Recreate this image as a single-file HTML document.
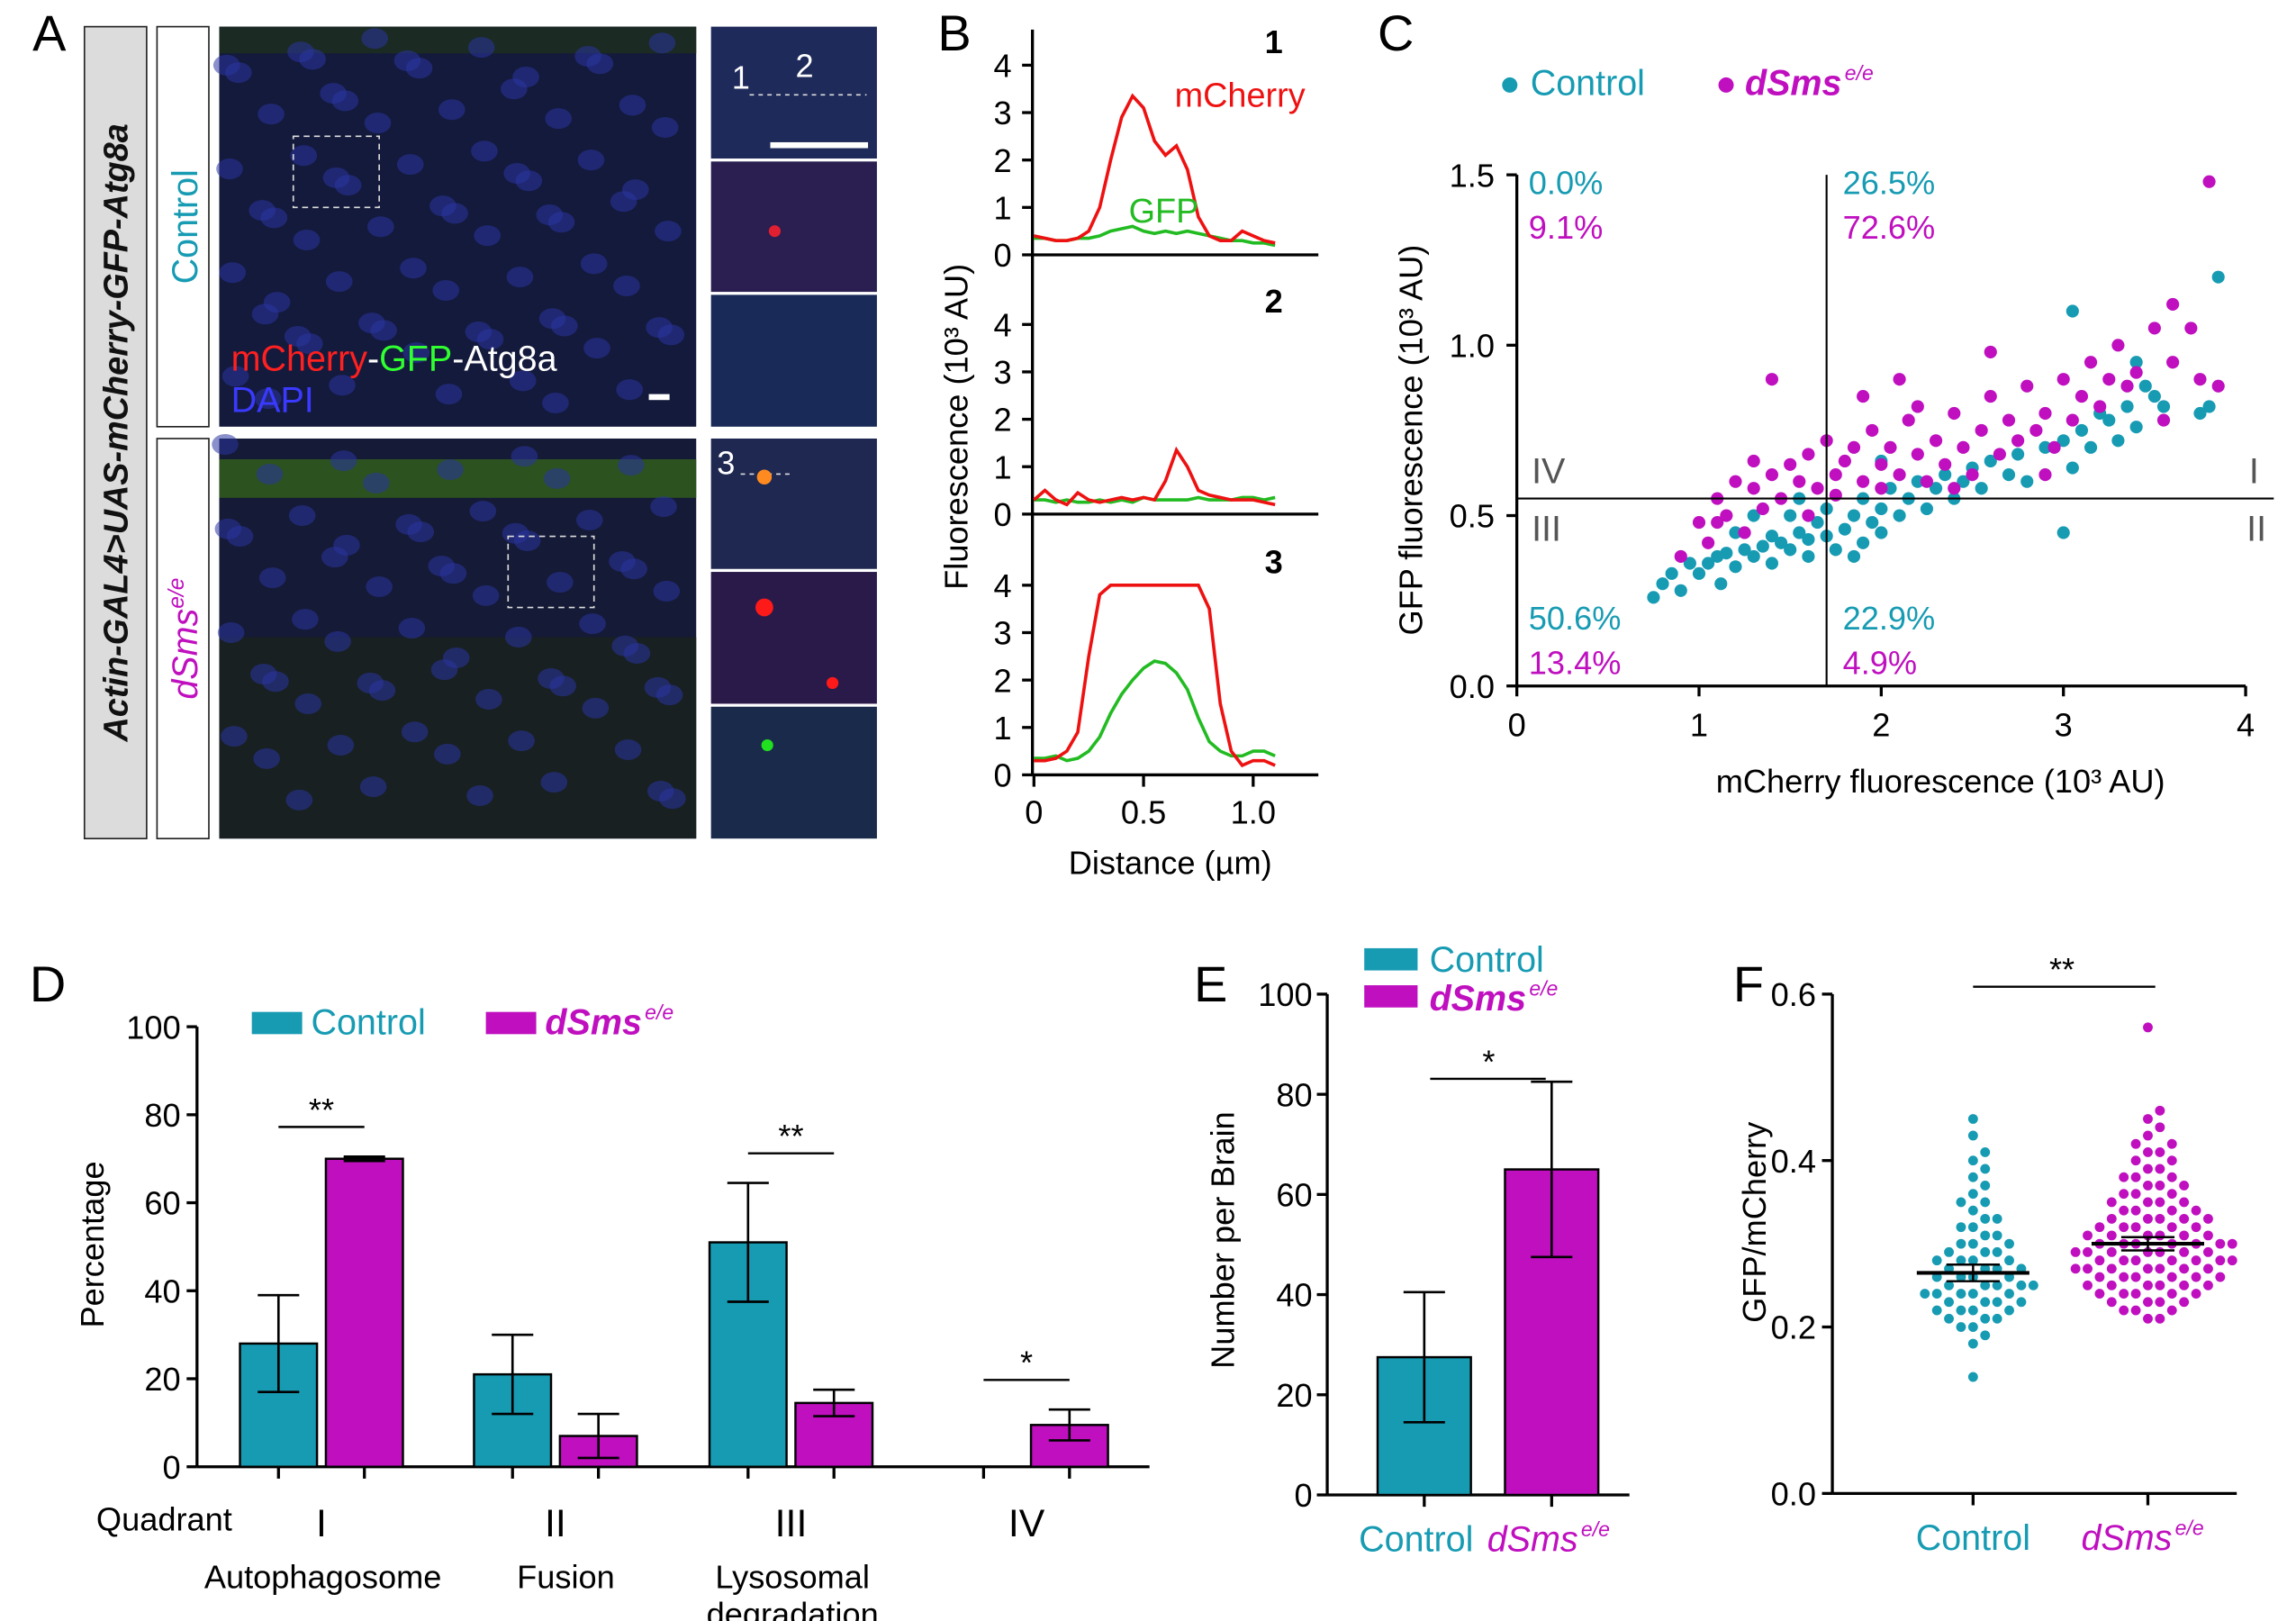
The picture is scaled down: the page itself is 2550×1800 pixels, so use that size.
<!DOCTYPE html>
<html><head><meta charset="utf-8">
<style>
html,body{margin:0;padding:0;background:#fff;}
svg{display:block;font-family:"Liberation Sans",Arial,sans-serif;}
</style></head>
<body>
<svg id="fig" width="2550" height="1800" viewBox="0 0 1550 1094.1" preserveAspectRatio="none" xmlns="http://www.w3.org/2000/svg">
<g id="panelA">
  <text x="22" y="34" font-size="34">A</text>
  <rect x="57" y="18" width="42" height="548" fill="#dcdcdc" stroke="#222" stroke-width="1"/>
  <text transform="translate(86,292) rotate(-90)" text-anchor="middle" font-size="23" font-weight="bold" font-style="italic" fill="#111">Actin-GAL4&gt;UAS-mCherry-GFP-Atg8a</text>
  <rect x="106" y="18" width="35" height="270" fill="#fff" stroke="#222"/>
  <text transform="translate(133,153) rotate(-90)" text-anchor="middle" font-size="24" fill="#179bb3">Control</text>
  <rect x="106" y="296" width="35" height="270" fill="#fff" stroke="#222"/>
  <text transform="translate(133,431) rotate(-90)" text-anchor="middle" font-size="24" font-style="italic" fill="#bf0fbf">dSms<tspan font-size="15" dy="-9">e/e</tspan></text>
  <rect x="148" y="18" width="322" height="270" fill="#141a3c"/>
  <rect x="148" y="18" width="322" height="18" fill="#1b2a22"/>
  <rect x="148" y="296" width="322" height="270" fill="#151a36"/>
  <rect x="148" y="310" width="322" height="26" fill="#2c5220"/>
  <rect x="148" y="430" width="322" height="136" fill="#182022"/>
  <g id="nuclei"></g>
  <rect x="198" y="92" width="58" height="48" fill="none" stroke="#ddd" stroke-dasharray="4,3"/>
  <rect x="343" y="362" width="58" height="48" fill="none" stroke="#ddd" stroke-dasharray="4,3"/>
  <text x="156" y="250" font-size="24" fill="#ff2020">mCherry<tspan fill="#fff">-</tspan><tspan fill="#30ff30">GFP</tspan><tspan fill="#fff">-Atg8a</tspan></text>
  <text x="156" y="278" font-size="24" fill="#3a3aff">DAPI</text>
  <rect x="438" y="266" width="14" height="4" fill="#fff"/>
  <rect x="480" y="18" width="112" height="89" fill="#1e2a5a"/>
  <rect x="480" y="109" width="112" height="88" fill="#2a1f50"/>
  <rect x="480" y="199" width="112" height="89" fill="#1a2a58"/>
  <rect x="480" y="296" width="112" height="88" fill="#1e2850"/>
  <rect x="480" y="386" width="112" height="89" fill="#2a1a4a"/>
  <rect x="480" y="477" width="112" height="89" fill="#1a2a4a"/>
  <text x="494" y="60" font-size="22" fill="#fff">1</text>
  <text x="537" y="52" font-size="22" fill="#fff">2</text>
  <line x1="506" y1="64" x2="585" y2="64" stroke="#ddd" stroke-dasharray="3,3"/>
  <rect x="520" y="96" width="66" height="4" fill="#fff"/>
  <text x="484" y="320" font-size="22" fill="#fff">3</text>
  <line x1="500" y1="320" x2="535" y2="320" stroke="#ddd" stroke-dasharray="3,3"/>
  <circle cx="516" cy="322" r="5" fill="#ff8a20"/>
  <circle cx="523" cy="156" r="4" fill="#e02030"/>
  <circle cx="516" cy="410" r="6" fill="#ff1a1a"/>
  <circle cx="562" cy="461" r="4" fill="#ff1a1a"/>
  <circle cx="518" cy="503" r="4" fill="#20e020"/>
</g>
<g id="panelB">
  <text x="633" y="34" font-size="34">B</text>
</g>
<g id="panelC">
  <text x="930" y="34" font-size="34">C</text>
</g>
<g id="panelD">
  <text x="20" y="676" font-size="34">D</text>
</g>
<g id="panelE">
  <text x="806" y="676" font-size="34">E</text>
</g>
<g id="panelF">
  <text x="1170" y="676" font-size="34">F</text>
</g>
</svg>
<script>
// ---------- Panel B data ----------
const bDist = [0,0.05,0.1,0.15,0.2,0.25,0.3,0.35,0.4,0.45,0.5,0.55,0.6,0.65,0.7,0.75,0.8,0.85,0.9,0.95,1.0,1.05,1.1];
const bRed1 = [0.4,0.35,0.3,0.3,0.35,0.5,1.0,2.0,2.9,3.35,3.1,2.4,2.1,2.3,1.8,0.8,0.4,0.3,0.3,0.5,0.4,0.3,0.25];
const bGreen1 = [0.35,0.35,0.3,0.3,0.35,0.35,0.4,0.5,0.55,0.6,0.5,0.45,0.5,0.45,0.5,0.45,0.4,0.35,0.3,0.3,0.25,0.25,0.2];
const bRed2 = [0.3,0.5,0.3,0.2,0.45,0.3,0.25,0.3,0.35,0.3,0.35,0.3,0.7,1.35,1.0,0.5,0.4,0.35,0.3,0.3,0.3,0.25,0.2];
const bGreen2 = [0.3,0.3,0.25,0.3,0.25,0.25,0.3,0.25,0.3,0.25,0.35,0.3,0.3,0.3,0.3,0.35,0.3,0.3,0.3,0.35,0.35,0.3,0.35];
const bRed3 = [0.3,0.3,0.35,0.5,0.9,2.5,3.8,4,4,4,4,4,4,4,4,4,3.5,1.5,0.5,0.2,0.3,0.3,0.2];
const bGreen3 = [0.35,0.35,0.4,0.3,0.35,0.5,0.8,1.3,1.7,2.0,2.25,2.4,2.35,2.15,1.8,1.2,0.7,0.5,0.4,0.4,0.5,0.5,0.4];
const bYTicks = [0,1,2,3,4];
const bXTicks = [0,0.5,1.0];
const bXTickLabels = ["0","0.5","1.0"];
// ---------- Panel C data ----------
const cCtlX = [0.75,0.8,0.85,0.9,0.95,1.0,1.05,1.1,1.12,1.15,1.2,1.25,1.3,1.35,1.4,1.4,1.45,1.5,1.5,1.55,1.6,1.6,1.65,1.7,1.7,1.75,1.8,1.85,1.9,1.9,1.95,2.0,2.0,2.05,2.1,2.15,2.2,2.25,2.3,2.35,2.4,2.45,2.5,2.55,2.6,2.7,2.75,2.8,2.9,3.0,3.05,3.1,3.15,3.2,3.25,3.3,3.35,3.4,3.45,3.5,3.55,3.0,3.05,3.4,3.75,3.85,3.8,1.2,1.55,1.3,2.0,1.85];
const cCtlY = [0.26,0.3,0.33,0.28,0.36,0.33,0.36,0.38,0.3,0.39,0.35,0.4,0.38,0.41,0.36,0.44,0.42,0.4,0.5,0.45,0.43,0.38,0.48,0.44,0.52,0.4,0.46,0.5,0.42,0.55,0.48,0.52,0.45,0.58,0.5,0.55,0.6,0.52,0.58,0.62,0.55,0.6,0.64,0.58,0.66,0.62,0.68,0.6,0.7,0.72,0.64,0.75,0.7,0.8,0.78,0.72,0.82,0.76,0.88,0.85,0.82,0.45,1.1,0.95,0.8,1.2,0.82,0.45,0.55,0.5,0.66,0.38];
const cDsmX = [0.9,1.0,1.05,1.1,1.15,1.2,1.25,1.3,1.35,1.4,1.45,1.5,1.55,1.6,1.65,1.7,1.75,1.8,1.85,1.9,1.95,2.0,2.0,2.05,2.1,2.15,2.2,2.25,2.3,2.35,2.4,2.45,2.5,2.55,2.6,2.65,2.7,2.75,2.8,2.85,2.9,2.95,3.0,3.05,3.1,3.15,3.2,3.25,3.3,3.35,3.4,3.5,3.55,3.6,3.7,3.75,3.8,3.85,1.4,1.9,2.1,2.6,1.6,1.3,2.4,2.9,2.2,1.1,3.6,1.75];
const cDsmY = [0.38,0.48,0.42,0.55,0.5,0.6,0.45,0.58,0.52,0.62,0.55,0.65,0.6,0.68,0.58,0.72,0.62,0.66,0.7,0.6,0.75,0.65,0.58,0.7,0.62,0.78,0.68,0.6,0.72,0.65,0.8,0.7,0.62,0.75,0.85,0.68,0.78,0.72,0.88,0.75,0.8,0.7,0.9,0.78,0.85,0.95,0.82,0.9,1.0,0.88,0.92,1.05,0.78,0.95,1.05,0.9,1.48,0.88,0.9,0.85,0.9,0.98,0.5,0.66,0.58,0.62,0.82,0.48,1.12,0.56];
const cXTicks = [0,1,2,3,4];
const cYTicks = [0,0.5,1.0,1.5];
const cYTickLabels = ["0.0","0.5","1.0","1.5"];
const cThreshX = 1.7;
const cThreshY = 0.55;
const cQuadCtl = ["0.0%","26.5%","50.6%","22.9%"];
const cQuadDsm = ["9.1%","72.6%","13.4%","4.9%"];
// ---------- Panel D data ----------
const dQuadrants = ["I","II","III","IV"];
const dCtl = [28,21,51,0];
const dCtlErr = [11,9,13.5,0];
const dDsm = [70,7,14.5,9.5];
const dDsmErr = [0.5,5,3,3.5];
const dSig = ["**","","**","*"];
const dYTicks = [0,20,40,60,80,100];
// ---------- Panel E data ----------
const eGroups = ["Control","dSms"];
const eVals = [27.5,65];
const eErr = [13,17.5];
const eYTicks = [0,20,40,60,80,100];
// ---------- Panel F data ----------
const fCtl = [0.14,0.18,0.19,0.2,0.2,0.21,0.21,0.21,0.22,0.22,0.22,0.22,0.23,0.23,0.23,0.23,0.24,0.24,0.24,0.24,0.24,0.25,0.25,0.25,0.25,0.25,0.26,0.26,0.26,0.26,0.27,0.27,0.27,0.27,0.28,0.28,0.28,0.28,0.29,0.29,0.29,0.3,0.3,0.3,0.31,0.31,0.32,0.32,0.33,0.33,0.34,0.35,0.35,0.36,0.37,0.38,0.39,0.4,0.41,0.43,0.45];
const fDsm = [0.21,0.21,0.22,0.22,0.22,0.23,0.23,0.23,0.23,0.24,0.24,0.24,0.24,0.24,0.25,0.25,0.25,0.25,0.25,0.25,0.26,0.26,0.26,0.26,0.26,0.26,0.27,0.27,0.27,0.27,0.27,0.27,0.27,0.28,0.28,0.28,0.28,0.28,0.28,0.28,0.29,0.29,0.29,0.29,0.29,0.29,0.29,0.3,0.3,0.3,0.3,0.3,0.3,0.3,0.31,0.31,0.31,0.31,0.31,0.31,0.32,0.32,0.32,0.32,0.32,0.33,0.33,0.33,0.33,0.33,0.34,0.34,0.34,0.34,0.35,0.35,0.35,0.35,0.36,0.36,0.36,0.37,0.37,0.37,0.38,0.38,0.38,0.39,0.39,0.4,0.4,0.41,0.41,0.42,0.42,0.43,0.44,0.45,0.46,0.56];
const fMeans = [0.265,0.30];
const fSem = [0.01,0.008];
const fYTicks = [0,0.2,0.4,0.6];
const fYTickLabels = ["0.0","0.2","0.4","0.6"];

const TEAL="#179bb3", MAG="#bf0fbf", NS="http://www.w3.org/2000/svg";
function mk(parent, tag, attrs, name, inter){
  const el=document.createElementNS(NS,tag);
  for(const k in attrs) el.setAttribute(k,attrs[k]);
  
  
  document.getElementById(parent).appendChild(el); return el;
}
function txt(parent,x,y,s,size,name,opt){
  const a=Object.assign({x:x,y:y,'font-size':size},opt||{});
  const t=mk(parent,'text',a,name); t.textContent=s; return t;
}
function sup(parent,t,x,y,name){
  const w=t.getComputedTextLength();
  txt(parent,x+w+2,y-10,'e/e',14,name,{fill:MAG,'font-style':'italic'});
}
function ln(parent,x1,y1,x2,y2,name,w,c){return mk(parent,'line',{x1:x1,y1:y1,x2:x2,y2:y2,stroke:c||'#000','stroke-width':w||2},name);}

// nuclei texture (decorative, deterministic)
for(let i=0;i<140;i++){
  const x=152+((i*73)%316), y=22+((i*41+Math.floor(i/7)*13)%262);
  const yy = i%2 ? y : y+278;
  if(yy>540) continue;
  mk('nuclei','ellipse',{cx:x,cy:yy,rx:9,ry:7,fill:'#2a34a0','fill-opacity':0.55},'nucleus');
}

// ---- Panel B ----
const bX = v => 698 + v*148;
const bPlots=[{z:172,r:bRed1,g:bGreen1,n:"1"},{z:347,r:bRed2,g:bGreen2,n:"2"},{z:523,r:bRed3,g:bGreen3,n:"3"}];
ln('panelB',697,20,697,523,'b-y-axis',2);
bPlots.forEach((p,i)=>{
  const by=v=>p.z - v*32;
  ln('panelB',697,p.z,890,p.z,'b-baseline-'+(i+1),2);
  bYTicks.forEach(t=>{ln('panelB',690,by(t),697,by(t),'b-y-tick',2); txt('panelB',683,by(t)+8,String(t),22,'b-y-tick-label',{'text-anchor':'end'});});
  const pr=p.r.map((v,k)=>bX(bDist[k])+','+by(v)).join(' ');
  const pg=p.g.map((v,k)=>bX(bDist[k])+','+by(v)).join(' ');
  mk('panelB','polyline',{points:pg,fill:'none',stroke:'#22bb22','stroke-width':2.2},'gfp-profile-'+(i+1));
  mk('panelB','polyline',{points:pr,fill:'none',stroke:'#ee1111','stroke-width':2.2},'mcherry-profile-'+(i+1));
  txt('panelB',866,p.z-136,p.n,22,'profile-number',{'font-weight':'bold','text-anchor':'end'});
});
txt('panelB',793,72,'mCherry',23,'mcherry-label',{fill:'#ee1111'});
txt('panelB',762,150,'GFP',23,'gfp-label',{fill:'#22bb22'});
bXTicks.forEach((t,i)=>{ln('panelB',bX(t),523,bX(t),531,'b-x-tick',2); txt('panelB',bX(t),556,bXTickLabels[i],22,'b-x-tick-label',{'text-anchor':'middle'});});
txt('panelB',790,590,'Distance (µm)',22,'b-x-axis-title',{'text-anchor':'middle'});
txt('panelB',0,0,'Fluorescence (10³ AU)',22,'b-y-axis-title',{'text-anchor':'middle',transform:'translate(653,288) rotate(-90)'});

// ---- Panel C ----
const cX=v=>1024+v*123, cY=v=>463-v*230;
txt('panelC',1012,64,'● Control',24,'c-legend-control',{fill:TEAL});
txt('panelC',1158,64,'● ',24,'c-legend-dsms',{fill:MAG});
const cl=txt('panelC',1178,64,'dSms',24,'c-legend-dsms-text',{fill:MAG,'font-style':'italic','font-weight':'bold'});
sup('panelC',cl,1178,64,'c-legend-dsms-sup');
ln('panelC',1024,118,1024,463,'c-y-axis',2);
ln('panelC',1024,463,1516,463,'c-x-axis',2);
cXTicks.forEach(t=>{ln('panelC',cX(t),463,cX(t),470,'c-x-tick',2); txt('panelC',cX(t),497,String(t),22,'c-x-tick-label',{'text-anchor':'middle'});});
cYTicks.forEach((t,i)=>{ln('panelC',1017,cY(t),1024,cY(t),'c-y-tick',2); txt('panelC',1009,cY(t)+8,cYTickLabels[i],22,'c-y-tick-label',{'text-anchor':'end'});});
txt('panelC',1310,535,'mCherry fluorescence (10³ AU)',22,'c-x-axis-title',{'text-anchor':'middle'});
txt('panelC',0,0,'GFP fluorescence  (10³ AU)',22,'c-y-axis-title',{'text-anchor':'middle',transform:'translate(960,297) rotate(-90)'});
cCtlX.forEach((x,i)=>mk('panelC','circle',{cx:cX(x),cy:cY(cCtlY[i]),r:4.3,fill:TEAL},'control-point'));
cDsmX.forEach((x,i)=>mk('panelC','circle',{cx:cX(x),cy:cY(cDsmY[i]),r:4.3,fill:MAG},'dsms-point'));
ln('panelC',cX(cThreshX),118,cX(cThreshX),463,'c-threshold-x',1.3);
ln('panelC',1024,cY(cThreshY),1535,cY(cThreshY),'c-threshold-y',1.3);
[[1032,131],[1244,131],[1032,425],[1244,425]].forEach((p,i)=>{
  txt('panelC',p[0],p[1],cQuadCtl[i],22,'quadrant-control-pct',{fill:TEAL});
  txt('panelC',p[0],p[1]+30,cQuadDsm[i],22,'quadrant-dsms-pct',{fill:MAG});
});
txt('panelC',1034,326,'IV',24,'quadrant-label-iv',{fill:'#555'});
txt('panelC',1034,365,'III',24,'quadrant-label-iii',{fill:'#555'});
txt('panelC',1525,326,'I',24,'quadrant-label-i',{fill:'#555','text-anchor':'end'});
txt('panelC',1530,365,'II',24,'quadrant-label-ii',{fill:'#555','text-anchor':'end'});

// ---- Panel D ----
const dY=v=>990-v*2.97; const dCtlX=[162,320,479,638]; const bw=52;
const eY=v=>1009-v*3.38;
function dYf(g){return g==='panelD'?dY:eY;}
function errbar(g,cx,v,e,name){ if(e<=0) return; const f=dYf(g); ln(g,cx,f(v-e),cx,f(v+e),name,1.6); ln(g,cx-14,f(v+e),cx+14,f(v+e),name,1.6); ln(g,cx-14,f(v-e),cx+14,f(v-e),name,1.6);}
ln('panelD',133,693,133,990,'d-y-axis',2);
ln('panelD',133,990,776,990,'d-x-axis',2);
dYTicks.forEach(t=>{ln('panelD',126,dY(t),133,dY(t),'d-y-tick',2); txt('panelD',122,dY(t)+8,String(t),22,'d-y-tick-label',{'text-anchor':'end'});});
txt('panelD',0,0,'Percentage',22,'d-y-axis-title',{'text-anchor':'middle',transform:'translate(70,840) rotate(-90)'});
mk('panelD','rect',{x:170,y:683,width:34,height:15,fill:TEAL},'d-legend-control-swatch');
txt('panelD',210,698,'Control',24,'d-legend-control',{fill:TEAL});
mk('panelD','rect',{x:328,y:683,width:34,height:15,fill:MAG},'d-legend-dsms-swatch');
const dl=txt('panelD',368,698,'dSms',24,'d-legend-dsms',{fill:MAG,'font-style':'italic','font-weight':'bold'});
sup('panelD',dl,368,698,'d-legend-dsms-sup');
dQuadrants.forEach((q,i)=>{
  const x0=dCtlX[i], x1=x0+58;
  if(dCtl[i]>0) mk('panelD','rect',{x:x0,y:dY(dCtl[i]),width:bw,height:dY(0)-dY(dCtl[i]),fill:TEAL,stroke:'#000','stroke-width':1.5},'bar-control-'+q);
  errbar('panelD',x0+bw/2,dCtl[i],dCtlErr[i],'errbar-control');
  mk('panelD','rect',{x:x1,y:dY(dDsm[i]),width:bw,height:dY(0)-dY(dDsm[i]),fill:MAG,stroke:'#000','stroke-width':1.5},'bar-dsms-'+q);
  errbar('panelD',x1+bw/2,dDsm[i],dDsmErr[i],'errbar-dsms');
  ln('panelD',x0+bw/2,990,x0+bw/2,998,'d-x-tick',2); ln('panelD',x1+bw/2,990,x1+bw/2,998,'d-x-tick',2);
  txt('panelD',x0+55,1037,q,26,'quadrant-label',{'text-anchor':'middle'});
  if(dSig[i]){const top=Math.max(dCtl[i]+dCtlErr[i],dDsm[i]+dDsmErr[i]); const yy=dY(top)-20;
    ln('panelD',x0+26,yy,x1+26,yy,'sig-line',1.5); txt('panelD',x0+55,yy-4,dSig[i],22,'sig-stars',{'text-anchor':'middle'});}
});
txt('panelD',65,1033,'Quadrant',22,'d-quadrant-title');
txt('panelD',218,1072,'Autophagosome',22,'d-name-autophagosome',{'text-anchor':'middle'});
txt('panelD',382,1072,'Fusion',22,'d-name-fusion',{'text-anchor':'middle'});
txt('panelD',535,1072,'Lysosomal',22,'d-name-lysosomal',{'text-anchor':'middle'});
txt('panelD',535,1097,'degradation',22,'d-name-degradation',{'text-anchor':'middle'});

// ---- Panel E ----
const eX=[930,1016]; const ebw=63;
ln('panelE',896,671,896,1009,'e-y-axis',2);
ln('panelE',896,1009,1100,1009,'e-x-axis',2);
eYTicks.forEach(t=>{ln('panelE',889,eY(t),896,eY(t),'e-y-tick',2); txt('panelE',886,eY(t)+8,String(t),22,'e-y-tick-label',{'text-anchor':'end'});});
txt('panelE',0,0,'Number per Brain',22,'e-y-axis-title',{'text-anchor':'middle',transform:'translate(833,837) rotate(-90)'});
eVals.forEach((v,i)=>{
  mk('panelE','rect',{x:eX[i],y:eY(v),width:ebw,height:eY(0)-eY(v),fill:i?MAG:TEAL,stroke:'#000','stroke-width':1.5},'bar-'+eGroups[i].toLowerCase());
  errbar('panelE',eX[i]+ebw/2,v,eErr[i],'errbar-'+eGroups[i].toLowerCase());
  ln('panelE',eX[i]+ebw/2,1009,eX[i]+ebw/2,1017,'e-x-tick',2);
});
const eTop=eY(eVals[1]+eErr[1])+10;
ln('panelE',eX[0]+ebw/2+4,eTop-12,eX[1]+ebw/2-4,eTop-12,'e-sig-line',1.5);
txt('panelE',1005,eTop-16,'*',22,'e-sig-star',{'text-anchor':'middle'});
mk('panelE','rect',{x:921,y:640,width:36,height:15,fill:TEAL},'e-legend-control-swatch');
txt('panelE',965,656,'Control',24,'e-legend-control',{fill:TEAL});
mk('panelE','rect',{x:921,y:665,width:36,height:15,fill:MAG},'e-legend-dsms-swatch');
const el2=txt('panelE',965,682,'dSms',24,'e-legend-dsms',{fill:MAG,'font-style':'italic','font-weight':'bold'});
sup('panelE',el2,965,682,'e-legend-dsms-sup');
txt('panelE',956,1047,'Control',24,'e-x-label-control',{fill:TEAL,'text-anchor':'middle'});
const el3=txt('panelE',1004,1047,'dSms',24,'e-x-label-dsms',{fill:MAG,'font-style':'italic'});
sup('panelE',el3,1004,1047,'e-x-label-dsms-sup');

// ---- Panel F ----
const fY=v=>1008-v*561.7; const fCx=[1332,1450];
ln('panelF',1237,671,1237,1008,'f-y-axis',2);
ln('panelF',1237,1008,1510,1008,'f-x-axis',2);
fYTicks.forEach((t,i)=>{ln('panelF',1230,fY(t),1237,fY(t),'f-y-tick',2); txt('panelF',1226,fY(t)+8,fYTickLabels[i],22,'f-y-tick-label',{'text-anchor':'end'});});
txt('panelF',0,0,'GFP/mCherry',22,'f-y-axis-title',{'text-anchor':'middle',transform:'translate(1192,825) rotate(-90)'});
function swarm(vals,cx,col,name){
  const placed=[]; const d=7.4;
  vals.slice().sort((a,b)=>a-b).forEach(v=>{
    const y=fY(v); let off=0,k=0;
    while(true){ const cand=k===0?0:(k%2?1:-1)*Math.ceil(k/2)*d*0.55;
      if(!placed.some(p=>Math.hypot(p[0]-cand,p[1]-y)<d)){off=cand;break;} k++; }
    placed.push([off,y]);
    mk('panelF','circle',{cx:cx+off,cy:y,r:3.3,fill:col},name);
  });
}
swarm(fCtl,fCx[0],TEAL,'control-dot');
swarm(fDsm,fCx[1],MAG,'dsms-dot');
fMeans.forEach((m,i)=>{
  ln('panelF',fCx[i]-38,fY(m),fCx[i]+38,fY(m),'f-mean-line',2.5);
  ln('panelF',fCx[i],fY(m-fSem[i]),fCx[i],fY(m+fSem[i]),'f-sem',1.5);
  ln('panelF',fCx[i]-18,fY(m+fSem[i]),fCx[i]+18,fY(m+fSem[i]),'f-sem',1.5);
  ln('panelF',fCx[i]-18,fY(m-fSem[i]),fCx[i]+18,fY(m-fSem[i]),'f-sem',1.5);
  ln('panelF',fCx[i],1008,fCx[i],1016,'f-x-tick',2);
});
ln('panelF',1332,666,1455,666,'f-sig-line',1.5);
txt('panelF',1392,662,'**',22,'f-sig-stars',{'text-anchor':'middle'});
txt('panelF',1332,1046,'Control',24,'f-x-label-control',{fill:TEAL,'text-anchor':'middle'});
const fl=txt('panelF',1405,1046,'dSms',24,'f-x-label-dsms',{fill:MAG,'font-style':'italic'});
sup('panelF',fl,1405,1046,'f-x-label-dsms-sup');
</script>
</body></html>
